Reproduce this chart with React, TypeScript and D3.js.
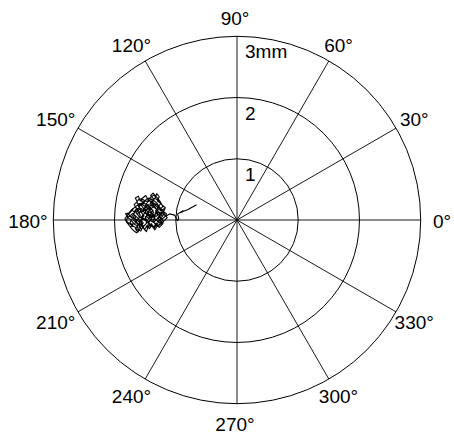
import React from "react";
import * as d3 from "d3";

// Polar grid
const angleTicks = [0, 30, 60, 90, 120, 150, 180, 210, 240, 270, 300, 330];
const radialTicks = [1, 2, 3];
const radialLabels = ["1", "2", "3mm"];
const rMax = 3;

// Trajectory (cartesian, mm)
const xMm = [
  -0.66, -0.8, -0.93, -0.88, -0.97, -0.95, -0.97, -1.02, -1.1, -1.16,
  -1.21, -1.18, -1.25, -1.29, -1.24, -1.3, -1.27, -1.31, -1.34, -1.38,
  -1.33, -1.4, -1.36, -1.43, -1.39, -1.45, -1.41, -1.47, -1.44, -1.5,
  -1.47, -1.53, -1.49, -1.55, -1.51, -1.57, -1.54, -1.6, -1.57, -1.63,
  -1.59, -1.65, -1.61, -1.66, -1.62, -1.58, -1.55, -1.52, -1.48, -1.45,
  -1.4, -1.36, -1.32, -1.28, -1.24, -1.29, -1.23, -1.28, -1.34, -1.31,
  -1.37, -1.42, -1.38, -1.44, -1.46, -1.5, -1.46, -1.51, -1.55, -1.58,
  -1.62, -1.67, -1.71, -1.75, -1.7, -1.76, -1.81, -1.78, -1.82, -1.76,
  -1.72, -1.68, -1.64, -1.68, -1.63, -1.66, -1.61, -1.58, -1.54, -1.49,
  -1.45, -1.4, -1.35, -1.32, -1.26, -1.22, -1.17, -1.2, -1.15, -1.19,
  -1.25, -1.21, -1.27, -1.33, -1.37, -1.34, -1.39, -1.44, -1.41, -1.47,
  -1.52, -1.56, -1.52, -1.57, -1.53, -1.59, -1.64, -1.69, -1.65, -1.7,
  -1.74, -1.79, -1.74, -1.69, -1.73, -1.67, -1.63, -1.57, -1.54, -1.49,
  -1.46, -1.42, -1.47, -1.43, -1.48, -1.44, -1.39, -1.35, -1.3, -1.27,
  -1.32, -1.27, -1.31, -1.36, -1.42, -1.38, -1.44, -1.5, -1.46, -1.51,
  -1.56, -1.6, -1.56, -1.61, -1.58, -1.62, -1.58, -1.62, -1.57, -1.52,
  -1.47, -1.42, -1.38, -1.33, -1.29, -1.24, -1.19, -1.14, -1.19, -1.24,
  -1.3, -1.35, -1.4, -1.45, -1.5, -1.54, -1.59, -1.64, -1.69, -1.73,
  -1.77, -1.72, -1.66, -1.6, -1.54, -1.48, -1.43, -1.38, -1.34, -1.3,
  -1.25, -1.2,
  -1.23, -1.27, -1.25, -1.3, -1.33, -1.29, -1.34, -1.39, -1.36, -1.41,
  -1.37, -1.33, -1.29, -1.25, -1.21, -1.25, -1.22, -1.27, -1.32, -1.37,
  -1.41, -1.45, -1.49, -1.53, -1.57, -1.61, -1.65, -1.61, -1.66, -1.71,
  -1.75, -1.79, -1.83, -1.8, -1.76, -1.72, -1.68, -1.64, -1.6, -1.63,
  -1.59, -1.55, -1.51, -1.47, -1.43, -1.39, -1.35, -1.31, -1.27, -1.33,
  -1.38, -1.43, -1.48, -1.44, -1.49, -1.54, -1.59, -1.55, -1.6, -1.65,
  -1.69, -1.73, -1.68, -1.64, -1.68, -1.63, -1.58, -1.53, -1.49, -1.44,
  -1.4, -1.36, -1.41, -1.37, -1.42, -1.46, -1.51, -1.56, -1.6, -1.64,
  -1.59, -1.54, -1.5, -1.45, -1.4, -1.35, -1.31, -1.28, -1.23, -1.18,
  -1.22, -1.26,
];
const yMm = [
  0.25, 0.17, 0.12, 0.15, 0.1, 0.02, -0.01, 0.08, 0.1, 0.06,
  0.12, 0.19, 0.15, 0.22, 0.27, 0.31, 0.38, 0.43, 0.36, 0.3,
  0.24, 0.19, 0.12, 0.08, 0.02, -0.03, -0.09, -0.12, -0.05, 0.01,
  0.09, 0.14, 0.21, 0.26, 0.32, 0.35, 0.28, 0.22, 0.15, 0.1,
  0.04, -0.01, -0.08, -0.14, -0.2, -0.13, -0.06, -0.14, -0.19, -0.11,
  -0.06, -0.12, -0.05, -0.1, -0.03, 0.03, 0.08, 0.13, 0.09, 0.17,
  0.22, 0.27, 0.33, 0.36, 0.29, 0.24, 0.18, 0.11, 0.05, -0.02,
  0.03, 0.08, 0.02, -0.04, -0.09, -0.06, -0.01, 0.05, 0.1, 0.12,
  0.17, 0.13, 0.19, 0.25, 0.3, 0.36, 0.39, 0.31, 0.36, 0.4,
  0.33, 0.38, 0.41, 0.34, 0.31, 0.24, 0.2, 0.14, 0.1, 0.04,
  0.0, -0.06, -0.12, -0.08, -0.01, 0.05, 0.1, 0.14, 0.21, 0.24,
  0.19, 0.12, 0.07, 0.0, -0.05, -0.09, -0.05, 0.0, 0.06, 0.11,
  0.07, 0.04, 0.01, -0.05, -0.1, -0.11, -0.16, -0.18, -0.11, -0.07,
  0.0, 0.05, 0.11, 0.16, 0.21, 0.25, 0.23, 0.27, 0.25, 0.19,
  0.13, 0.07, 0.01, -0.04, -0.01, 0.06, 0.09, 0.05, -0.03, -0.09,
  -0.15, -0.12, -0.04, 0.01, 0.08, 0.14, 0.19, 0.24, 0.27, 0.29,
  0.35, 0.31, 0.26, 0.2, 0.14, 0.11, 0.09, 0.04, -0.01, -0.06,
  -0.02, 0.03, 0.13, 0.2, 0.15, 0.21, 0.27, 0.23, 0.19, 0.14,
  0.09, 0.04, 0.02, -0.03, 0.02, -0.02, -0.07, -0.11, -0.16, -0.09,
  -0.07, -0.03,
  0.02, 0.05, 0.11, 0.09, 0.15, 0.2, 0.25, 0.29, 0.34, 0.4,
  0.44, 0.39, 0.35, 0.29, 0.22, 0.18, 0.13, 0.1, 0.06, 0.09,
  0.04, 0.07, 0.12, 0.09, 0.04, 0.07, 0.12, 0.17, 0.21, 0.18,
  0.13, 0.08, 0.02, -0.04, -0.09, -0.14, -0.18, -0.21, -0.17, -0.11,
  -0.06, -0.1, -0.16, -0.09, -0.14, -0.08, -0.13, -0.07, -0.02, 0.01,
  0.0, 0.02, 0.06, 0.12, 0.17, 0.15, 0.12, 0.18, 0.2, 0.16,
  0.09, 0.04, 0.03, -0.02, -0.07, -0.09, -0.03, 0.03, 0.01, -0.04,
  0.02, 0.07, 0.11, 0.16, 0.18, 0.25, 0.27, 0.31, 0.34, 0.29,
  0.24, 0.25, 0.31, 0.3, 0.34, 0.31, 0.28, 0.23, 0.17, 0.12,
  0.06, 0.02,
];

const W = 454;
const H = 434;
const cx = 237;
const cy = 220;
const R = 183.7;

export default function App() {
  const r = d3.scaleLinear().domain([0, rMax]).range([0, R]);
  const rad = (deg: number) => (deg * Math.PI) / 180;

  const n = Math.min(xMm.length, yMm.length);
  const theta = xMm.slice(0, n).map((x, i) => Math.atan2(yMm[i], x));
  const rho = xMm.slice(0, n).map((x, i) => Math.hypot(x, yMm[i]));

  const line = d3
    .lineRadial<number>()
    .angle((_, i) => Math.PI / 2 - theta[i])
    .radius((_, i) => r(rho[i]));
  const pathD = line(theta) || "";

  const font = "'Liberation Sans', Arial, Helvetica, sans-serif";

  return (
    <svg
      width={W}
      height={H}
      style={{ position: "absolute", left: 0, top: 0, background: "#fff" }}
    >
      <g transform={`translate(${cx},${cy})`}>
        {radialTicks.map((t) => (
          <circle key={t} r={r(t)} fill="none" stroke="#000" strokeWidth={1} />
        ))}
        {angleTicks.map((a) => (
          <line
            key={a}
            x1={0}
            y1={0}
            x2={r(rMax) * Math.cos(rad(a))}
            y2={-r(rMax) * Math.sin(rad(a))}
            stroke="#000"
            strokeWidth={0.9}
          />
        ))}
        <path d={pathD} fill="none" stroke="#000" strokeWidth={1.1} strokeLinejoin="round" />
        {radialTicks.map((t, i) => (
          <text
            key={t}
            x={8}
            y={-(r(t) - 15.5)}
            fontFamily={font}
            fontSize={19}
            dominantBaseline="central"
            fill="#000"
          >
            {radialLabels[i]}
          </text>
        ))}
        {angleTicks.map((a) => (
          <text
            key={a}
            x={-2 + 207 * Math.cos(rad(a))}
            y={1 - 203 * Math.sin(rad(a))}
            fontFamily={font}
            fontSize={19}
            textAnchor="middle"
            dominantBaseline="central"
            fill="#000"
          >
            {`${a}°`}
          </text>
        ))}
      </g>
    </svg>
  );
}
